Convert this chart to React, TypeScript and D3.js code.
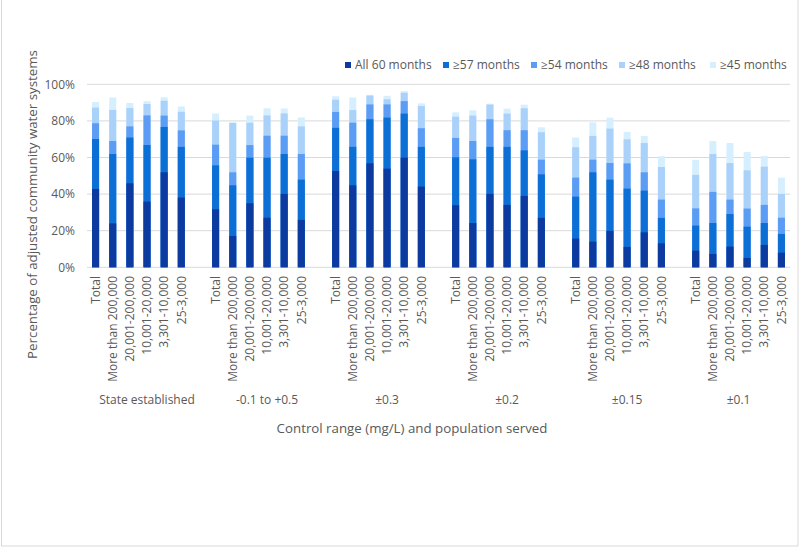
import React from "react";
import * as d3 from "d3";

const groups = ["State established", "-0.1 to +0.5", "±0.3", "±0.2", "±0.15", "±0.1"];
const sizes = ["Total", "More than 200,000", "20,001-200,000", "10,001-20,000", "3,301-10,000", "25-3,000"];
const seriesNames = ["All 60 months", "≥57 months", "≥54 months", "≥48 months", "≥45 months"];
const seriesColors = ["#0d3a9f", "#0b6fd6", "#5b9cf5", "#a9d1fa", "#d6efff"];
const yTicks = [0, 20, 40, 60, 80, 100];

// values per group, in order of sizes (cumulative shares, %)
const all60 = [
  [42.8, 24.0, 45.9, 35.9, 51.9, 38.1],
  [31.7, 17.1, 35.0, 27.1, 40.1, 25.9],
  [52.6, 44.8, 56.8, 53.9, 59.9, 44.1],
  [33.9, 24.2, 40.1, 34.1, 39.0, 27.0],
  [15.7, 14.0, 19.9, 11.1, 19.1, 13.1],
  [9.1, 7.3, 11.3, 5.1, 12.2, 8.0],
];
const ge57 = [
  [70.1, 61.9, 70.9, 66.8, 76.7, 65.8],
  [55.7, 44.8, 59.9, 59.9, 61.9, 47.9],
  [76.2, 65.8, 80.9, 81.8, 84.0, 65.8],
  [60.1, 59.0, 65.8, 65.8, 63.9, 50.8],
  [38.6, 51.9, 47.9, 43.0, 41.9, 27.0],
  [22.8, 24.2, 29.1, 22.2, 24.2, 18.2],
];
const ge54 = [
  [78.7, 69.0, 77.0, 83.0, 82.9, 74.8],
  [67.0, 51.9, 66.8, 71.9, 71.9, 61.9],
  [84.9, 79.0, 89.0, 89.0, 90.8, 76.0],
  [70.7, 69.0, 80.9, 74.9, 74.9, 58.8],
  [49.0, 58.8, 57.0, 56.8, 51.9, 37.0],
  [32.2, 41.2, 37.0, 32.1, 34.1, 27.1],
];
const ge48 = [
  [87.3, 86.0, 87.0, 89.2, 91.0, 85.0],
  [80.2, 79.0, 79.0, 83.0, 84.1, 77.0],
  [91.6, 85.9, 93.8, 91.8, 95.4, 88.1],
  [82.3, 82.9, 88.9, 84.0, 86.9, 73.8],
  [65.6, 71.8, 75.8, 69.9, 67.9, 54.8],
  [50.5, 61.9, 57.0, 53.0, 55.0, 40.1],
];
const ge45 = [
  [90.3, 92.8, 89.8, 90.8, 92.9, 87.9],
  [84.0, 79.0, 82.9, 86.9, 86.8, 81.9],
  [93.5, 92.8, 94.3, 93.7, 96.3, 89.6],
  [84.7, 85.8, 89.4, 86.7, 88.9, 76.5],
  [70.9, 79.2, 81.8, 74.0, 71.8, 60.7],
  [58.7, 69.0, 67.9, 63.0, 60.8, 49.0],
];
const seriesValues = [all60, ge57, ge54, ge48, ge45];

const W = 800;
const H = 551;
const FONT = "'Open Sans', sans-serif";
const TEXT = "#595959";

export default function App() {
  const slots: string[] = [];
  groups.forEach((g, gi) => {
    sizes.forEach((s, si) => slots.push(`${gi}|${si}`));
    if (gi < groups.length - 1) slots.push(`${gi}|gap`);
  });
  const x = d3.scaleBand<string>().domain(slots).range([87, 790]).paddingInner(0.59).paddingOuter(0.295);
  const y = d3.scaleLinear().domain([0, 100]).range([267.3, 84.3]);
  const bw = x.bandwidth();
  const cx = (k: string) => (x(k) as number) + bw / 2;

  const legendX = [345, 443, 531, 619, 710];

  return (
    <svg width={W} height={H} style={{ position: "absolute", left: 0, top: 0, background: "#fff" }} fontFamily={FONT}>
      <rect x={1.5} y={-2} width={796.5} height={548} fill="#fff" stroke="#d9d9d9" strokeWidth={1} />
      {yTicks.map((t) => (
        <g key={t}>
          <line x1={87} x2={790} y1={y(t)} y2={y(t)} stroke="#d9d9d9" strokeWidth={1} />
          <text x={75} y={y(t)} dy="0.35em" textAnchor="end" fontSize={12} fill={TEXT}>{t}%</text>
        </g>
      ))}
      {seriesValues
        .map((vals, si) => ({ vals, si }))
        .reverse()
        .map(({ vals, si }) => (
          <g key={si}>
            {groups.map((g, gi) =>
              sizes.map((s, bi) => {
                const v = vals[gi][bi];
                const k = `${gi}|${bi}`;
                return (
                  <rect key={k} x={x(k)} width={bw} y={y(v)} height={y(0) - y(v)} fill={seriesColors[si]} />
                );
              })
            )}
          </g>
        ))}
      {groups.map((g, gi) =>
        sizes.map((s, bi) => {
          const k = `${gi}|${bi}`;
          return (
            <text key={k} transform={`translate(${cx(k)},276) rotate(-90)`} dy="0.35em" textAnchor="end" fontSize={12} fill={TEXT}>
              {s}
            </text>
          );
        })
      )}
      {groups.map((g, gi) => {
        const a = cx(`${gi}|0`);
        const b = gi < groups.length - 1 ? cx(`${gi}|gap`) : cx(`${gi}|5`);
        return (
          <text key={g} x={(a + b) / 2} y={400} dy="0.35em" textAnchor="middle" fontSize={12} fill={TEXT}>{g}</text>
        );
      })}
      <text x={412} y={428} dy="0.35em" textAnchor="middle" fontSize={13.3} fill={TEXT}>
        Control range (mg/L) and population served
      </text>
      <text transform="translate(32,204.5) rotate(-90)" dy="0.35em" textAnchor="middle" fontSize={13.3} fill={TEXT}>
        Percentage of adjusted community water systems
      </text>
      {seriesNames.map((n, i) => (
        <g key={n}>
          <rect x={legendX[i]} y={62} width={6} height={6} fill={seriesColors[i]} />
          <text x={legendX[i] + 10} y={65} dy="0.35em" fontSize={12} fill={TEXT}>{n}</text>
        </g>
      ))}
    </svg>
  );
}
